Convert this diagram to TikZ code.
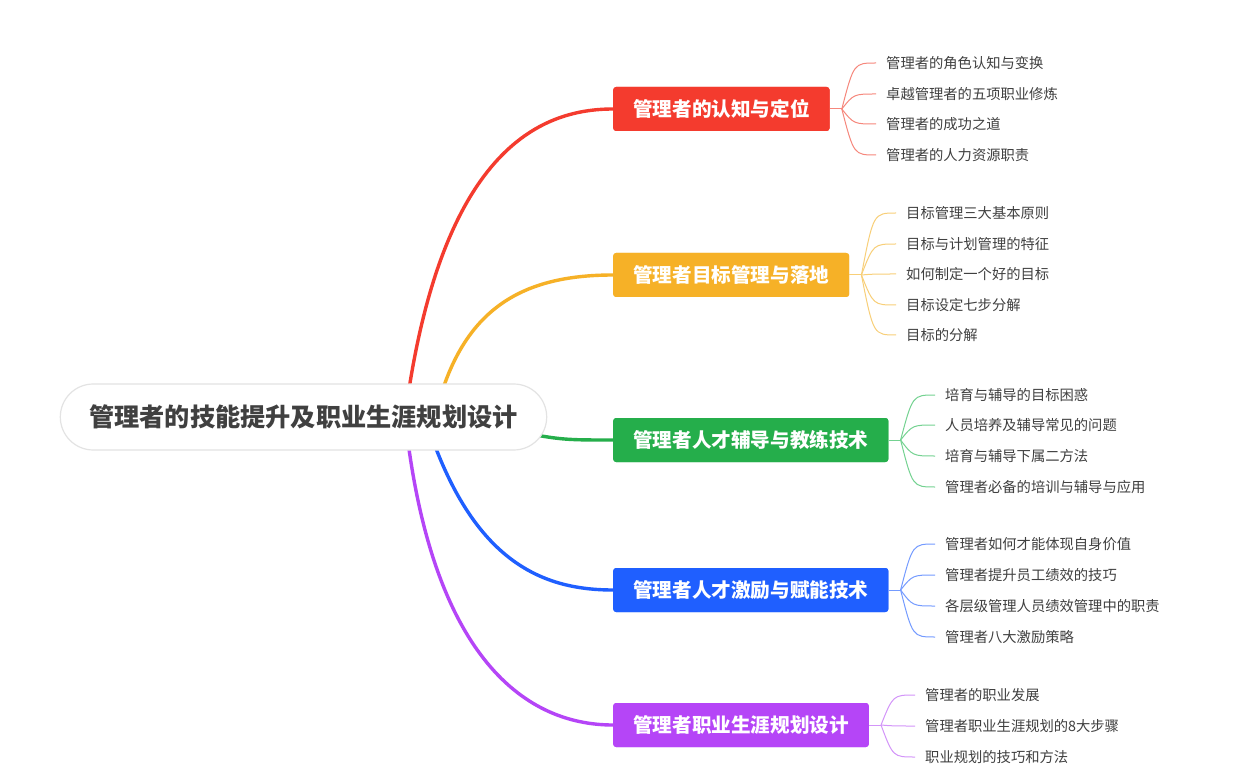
\documentclass[tikz,border=0pt]{standalone}
\usepackage{fontspec}
\setmainfont{Noto Sans CJK SC}
\usetikzlibrary{calc}
\definecolor{cRed}{HTML}{F43B2E}
\definecolor{cOrange}{HTML}{F6B127}
\definecolor{cGreen}{HTML}{25AE4B}
\definecolor{cBlue}{HTML}{1F5FFF}
\definecolor{cPurple}{HTML}{B545F7}
\definecolor{lRed}{HTML}{F6877C}
\definecolor{lOrange}{HTML}{F8CF78}
\definecolor{lGreen}{HTML}{74D291}
\definecolor{lBlue}{HTML}{749BFF}
\definecolor{lPurple}{HTML}{D395F9}
\definecolor{txt}{HTML}{404040}
\begin{document}
\begin{tikzpicture}[x=1pt,y=-1pt,
  rootbox/.style={draw=black!11, line width=1.2pt, fill=white, rounded corners=33pt,
    minimum height=66pt, inner xsep=29pt, inner ysep=0pt,
    font=\fontsize{25.2}{27}\selectfont\bfseries, text=txt},
  branchbox/.style={rounded corners=3pt, minimum height=44pt, inner xsep=20pt, inner ysep=0pt,
    font=\fontsize{19.6}{22}\selectfont\bfseries, text=white, anchor=west},
  leaf/.style={anchor=west, inner sep=0pt, font=\fontsize{14.3}{16}\selectfont, text=txt},
  mainline/.style={line width=3.4pt},
  leafline/.style={line width=1pt}]
\useasboundingbox (0,0) rectangle (1239,783);
\fill[white] (0,0) rectangle (1239,783);

% start points hidden inside the root
\coordinate (s1) at (405,417);
\coordinate (s2) at (435,417);
\coordinate (s3) at (500,428);
\coordinate (s4) at (425,417);
\coordinate (s5) at (405,417);

% branch nodes
\node[branchbox, fill=cRed] (b1) at (613,109) {管理者的认知与定位};
\node[branchbox, fill=cOrange] (b2) at (613,275) {管理者目标管理与落地};
\node[branchbox, fill=cGreen] (b3) at (613,440) {管理者人才辅导与教练技术};
\node[branchbox, fill=cBlue] (b4) at (613,590) {管理者人才激励与赋能技术};
\node[branchbox, fill=cPurple] (b5) at (613,725) {管理者职业生涯规划设计};

% main connectors
\draw[mainline, cRed] (s1) .. controls (440,150) and (540,109) .. (b1.west);
\draw[mainline, cOrange] (s2) .. controls (460,310) and (520,275) .. (b2.west);
\draw[mainline, cGreen] (s3) .. controls (560,440) .. (b3.west);
\draw[mainline, cBlue] (s4) .. controls (470,560) and (540,590) .. (b4.west);
\draw[mainline, cPurple] (s5) .. controls (430,650) and (520,725) .. (b5.west);

% root
\node[rootbox] (root) at (303.5,417) {管理者的技能提升及职业生涯规划设计};

% redraw branch boxes on top
\node[branchbox, fill=cRed] at (613,109) {管理者的认知与定位};
\node[branchbox, fill=cOrange] at (613,275) {管理者目标管理与落地};
\node[branchbox, fill=cGreen] at (613,440) {管理者人才辅导与教练技术};
\node[branchbox, fill=cBlue] at (613,590) {管理者人才激励与赋能技术};
\node[branchbox, fill=cPurple] at (613,725) {管理者职业生涯规划设计};

% leaves
\node[leaf] (r1) at (886,63) {管理者的角色认知与变换};
\node[leaf] (r2) at (886,94) {卓越管理者的五项职业修炼};
\node[leaf] (r3) at (886,124) {管理者的成功之道};
\node[leaf] (r4) at (886,155) {管理者的人力资源职责};

\node[leaf] (o1) at (906,213) {目标管理三大基本原则};
\node[leaf] (o2) at (906,244) {目标与计划管理的特征};
\node[leaf] (o3) at (906,274) {如何制定一个好的目标};
\node[leaf] (o4) at (906,305) {目标设定七步分解};
\node[leaf] (o5) at (906,335) {目标的分解};

\node[leaf] (g1) at (945,395) {培育与辅导的目标困惑};
\node[leaf] (g2) at (945,425) {人员培养及辅导常见的问题};
\node[leaf] (g3) at (945,456) {培育与辅导下属二方法};
\node[leaf] (g4) at (945,487) {管理者必备的培训与辅导与应用};

\node[leaf] (u1) at (945,544) {管理者如何才能体现自身价值};
\node[leaf] (u2) at (945,575) {管理者提升员工绩效的技巧};
\node[leaf] (u3) at (945,606) {各层级管理人员绩效管理中的职责};
\node[leaf] (u4) at (945,637) {管理者八大激励策略};

\node[leaf] (p1) at (925,695) {管理者的职业发展};
\node[leaf] (p2) at (925,726) {管理者职业生涯规划的8大步骤};
\node[leaf] (p3) at (925,757) {职业规划的技巧和方法};

% junctions
\coordinate (j1) at ($(b1.east)+(12,0)$);
\coordinate (j2) at ($(b2.east)+(12,0)$);
\coordinate (j3) at ($(b3.east)+(12,0)$);
\coordinate (j4) at ($(b4.east)+(12,0)$);
\coordinate (j5) at ($(b5.east)+(12,0)$);

\draw[leafline, lRed] (b1.east) -- (j1);
\draw[leafline, lOrange] (b2.east) -- (j2);
\draw[leafline, lGreen] (b3.east) -- (j3);
\draw[leafline, lBlue] (b4.east) -- (j4);
\draw[leafline, lPurple] (b5.east) -- (j5);

\foreach \i in {1,...,4}
  \draw[leafline, lRed] (j1) .. controls ($(j1|-r\i.west)+(12,0)$) .. ($(r\i.west)+(-10,0)$);
\foreach \i in {1,...,5}
  \draw[leafline, lOrange] (j2) .. controls ($(j2|-o\i.west)+(12,0)$) .. ($(o\i.west)+(-10,0)$);
\foreach \i in {1,...,4}
  \draw[leafline, lGreen] (j3) .. controls ($(j3|-g\i.west)+(12,0)$) .. ($(g\i.west)+(-10,0)$);
\foreach \i in {1,...,4}
  \draw[leafline, lBlue] (j4) .. controls ($(j4|-u\i.west)+(12,0)$) .. ($(u\i.west)+(-10,0)$);
\foreach \i in {1,...,3}
  \draw[leafline, lPurple] (j5) .. controls ($(j5|-p\i.west)+(12,0)$) .. ($(p\i.west)+(-10,0)$);
\end{tikzpicture}
\end{document}
